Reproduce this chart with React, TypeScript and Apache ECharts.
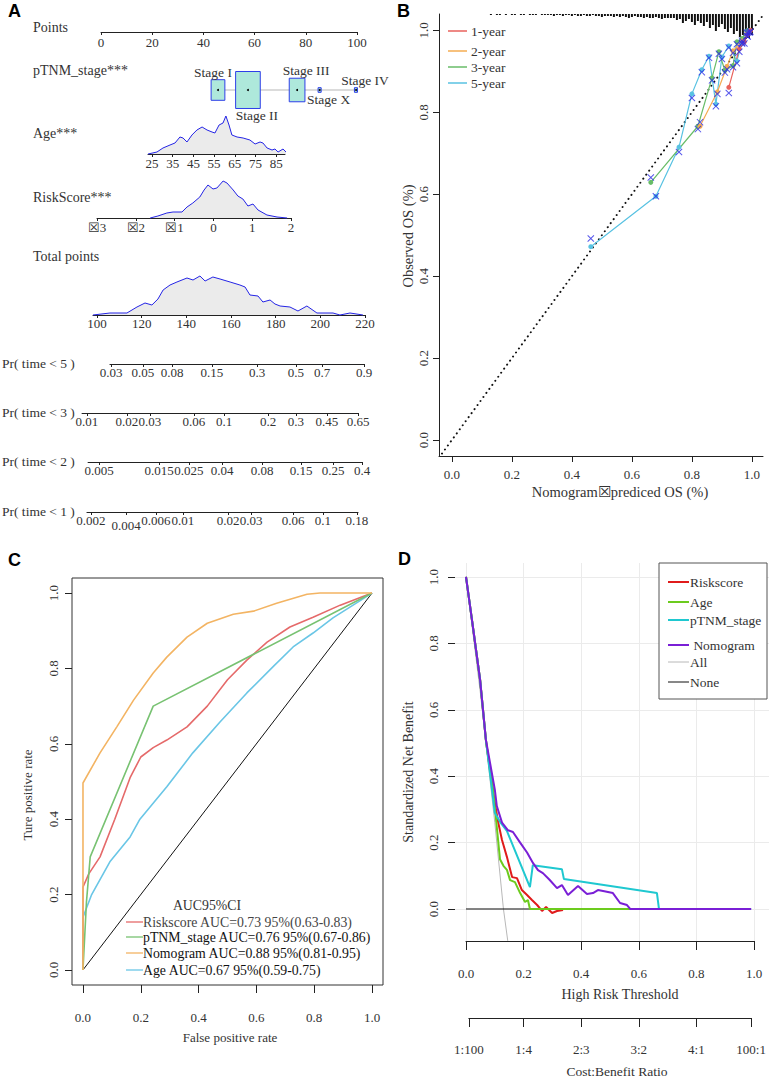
import React, { useEffect, useRef } from 'react';
import * as echarts from 'echarts';

const SERIF = '"Liberation Serif", "Times New Roman", serif';
const SANS = '"Liberation Sans", Arial, Helvetica, sans-serif';
const TXT = '#333';
const AXIS = '#222';
const BOXX = '\u2612';

// ---------------- Panel A : nomogram ----------------
const POINTS_TICKS = [0, 20, 40, 60, 80, 100];
const STAGE_NAMES = ['Stage I', 'Stage II', 'Stage III', 'Stage X', 'Stage IV'];
const STAGE_POINTS = [45.7, 57.4, 76.6, 85.4, 99.6];
const STAGE_COUNTS = [59, 190, 77, 3, 3];
const AGE_TICKS = [25, 35, 45, 55, 65, 75, 85];
const AGE_DENSITY = [
  [23.1, 0], [27.4, 2], [30.3, 6], [33.7, 9], [36.1, 11], [38.5, 17], [40.0, 16], [41.9, 12],
  [44.3, 19], [46.7, 24], [49.2, 27], [51.6, 24], [54.0, 22], [55.4, 21], [57.4, 29], [59.3, 31],
  [60.7, 38], [62.2, 29], [63.6, 19], [66.1, 17], [69.0, 16], [72.3, 14], [74.8, 10], [77.2, 12],
  [78.6, 11], [80.6, 6], [83.0, 4], [84.4, 5], [85.9, 2], [88.3, 5], [90.2, 1],
];
const RISK_TICKS = [-3, -2, -1, 0, 1, 2];
const RISK_DENSITY = [
  [-1.63, 0], [-1.43, 2], [-1.2, 5], [-1.04, 6], [-0.81, 6], [-0.68, 11], [-0.53, 15], [-0.35, 21],
  [-0.24, 28], [-0.14, 33], [-0.01, 29], [0.09, 30], [0.25, 37], [0.35, 35], [0.51, 28], [0.63, 22],
  [0.76, 19], [0.89, 12], [1.02, 14], [1.15, 8], [1.38, 3], [1.64, 1], [1.9, 0],
];
const TOTAL_TICKS = [100, 120, 140, 160, 180, 200, 220];
const TOTAL_DENSITY = [
  [98.2, 0], [105.8, 2], [113.4, 2], [117.9, 8], [121.5, 12], [124.6, 10], [127.3, 16], [129.6, 25],
  [132.7, 30], [135.8, 33], [140.3, 37], [143.0, 35], [146.1, 39], [148.4, 34], [151.9, 38], [155.1, 36],
  [159.6, 33], [164.0, 30], [166.3, 28], [168.5, 20], [172.1, 19], [174.3, 13], [177.5, 15], [179.7, 11],
  [182.0, 9], [186.4, 8], [190.0, 4], [194.0, 9], [198.5, 2], [205.7, 2], [208.8, 0], [213.3, 2], [219.1, 0],
];
const PR5_LABELS = ['0.03', '0.05', '0.08', '0.15', '0.3', '0.5', '0.7', '0.9'];
const PR5_POINTS = [106.3, 120.6, 133.6, 151.5, 171.7, 189.1, 200.8, 219.6];
const PR3_LABELS = ['0.01', '0.02', '0.03', '0.06', '0.1', '0.2', '0.3', '0.45', '0.65'];
const PR3_POINTS = [95.5, 113.4, 123.7, 143.4, 156.9, 176.6, 189.1, 203.0, 216.9];
const PR2_LABELS = ['0.005', '0.015', '0.025', '0.04', '0.08', '0.15', '0.25', '0.4'];
const PR2_POINTS = [100.9, 127.8, 141.2, 156.0, 173.9, 191.4, 205.7, 218.7];
const PR1_LABELS = ['0.002', '0.004', '0.006', '0.01', '0.02', '0.03', '0.06', '0.1', '0.18'];
const PR1_POINTS = [97.3, 113.0, 126.4, 138.5, 158.7, 169.0, 187.8, 201.2, 216.4];

// ---------------- Panel B : calibration ----------------
const YEAR_NAMES = ['1-year', '2-year', '3-year', '5-year'];
const PRED_1Y = [0.923, 0.958, 0.975, 0.986, 0.995];
const OBS_1Y = [0.861, 0.955, 0.972, 0.99, 1.0];
const BC_1Y = [0.847, 0.948, 0.968, 0.985, 0.997];
const PRED_2Y = [0.827, 0.885, 0.917, 0.937, 0.967, 0.983, 0.993];
const OBS_2Y = [0.766, 0.85, 0.912, 0.95, 0.974, 0.99, 0.998];
const BC_2Y = [0.776, 0.845, 0.905, 0.945, 0.97, 0.987, 0.995];
const PRED_3Y = [0.663, 0.82, 0.867, 0.89, 0.91, 0.937, 0.95, 0.967, 0.983];
const OBS_3Y = [0.629, 0.766, 0.884, 0.948, 0.902, 0.914, 0.972, 0.98, 0.999];
const BC_3Y = [0.641, 0.759, 0.878, 0.943, 0.897, 0.91, 0.966, 0.975, 0.994];
const PRED_5Y = [0.463, 0.68, 0.757, 0.8, 0.833, 0.857, 0.88, 0.9, 0.923, 0.95, 0.967, 0.987];
const OBS_5Y = [0.472, 0.595, 0.715, 0.845, 0.904, 0.937, 0.82, 0.935, 0.962, 0.925, 0.972, 0.999];
const BC_5Y = [0.492, 0.595, 0.703, 0.835, 0.898, 0.933, 0.815, 0.93, 0.958, 0.92, 0.968, 0.995];
const SPIKE_FROM = 0.13;
const SPIKE_STEP = 0.01;
const SPIKE_COUNTS = [
  1, 0, 1, 1, 0, 1, 0, 1, 1, 0,
  1, 1, 0, 1, 1, 1, 0, 1, 1, 1,
  1, 2, 1, 1, 2, 1, 1, 2, 1, 2,
  2, 1, 2, 2, 1, 2, 2, 3, 2, 2,
  2, 3, 2, 3, 2, 3, 4, 3, 2, 3,
  3, 4, 3, 4, 4, 3, 4, 5, 4, 4,
  4, 4, 6, 5, 9, 7, 5, 8, 11, 7,
  9, 12, 8, 14, 11, 17, 13, 10, 15, 18,
  14, 20, 17, 23, 21, 25, 24, 21,
];
const CAL_TICKS = [0, 0.2, 0.4, 0.6, 0.8, 1.0];

// ---------------- Panel C : ROC ----------------
const ROC_NAMES = ['Riskscore', 'pTNM_stage', 'Nomogram', 'Age'];
const ROC_AUC = [0.73, 0.76, 0.88, 0.67];
const ROC_LO = [0.63, 0.67, 0.81, 0.59];
const ROC_HI = [0.83, 0.86, 0.95, 0.75];
const RISK_ROC = [[0, 0], [0, 0.22], [0.02, 0.255], [0.059, 0.3], [0.11, 0.4], [0.163, 0.51], [0.2, 0.565], [0.243, 0.59], [0.29, 0.61], [0.36, 0.645], [0.43, 0.7], [0.5, 0.77], [0.567, 0.822], [0.637, 0.87], [0.716, 0.91], [0.796, 0.936], [0.89, 0.968], [1, 1]];
const PTNM_ROC = [[0, 0], [0.012, 0.18], [0.025, 0.3], [0.243, 0.7], [1, 1]];
const NOMO_ROC = [[0, 0], [0, 0.496], [0.059, 0.576], [0.117, 0.645], [0.175, 0.716], [0.243, 0.788], [0.29, 0.83], [0.36, 0.883], [0.43, 0.92], [0.52, 0.944], [0.59, 0.952], [0.67, 0.973], [0.775, 0.997], [0.82, 1], [1, 1]];
const AGE_ROC = [[0, 0], [0, 0.14], [0.03, 0.2], [0.093, 0.287], [0.163, 0.353], [0.197, 0.4], [0.29, 0.486], [0.38, 0.576], [0.474, 0.658], [0.567, 0.735], [0.657, 0.804], [0.727, 0.857], [0.796, 0.894], [0.865, 0.934], [1, 1]];
const ROC_TICKS = [0, 0.2, 0.4, 0.6, 0.8, 1.0];

// ---------------- Panel D : decision curves ----------------
const DCA_NAMES = ['Riskscore', 'Age', 'pTNM_stage', 'Nomogram', 'All', 'None'];
const DCA_RISK = [[0, 1], [0.02, 0.875], [0.049, 0.69], [0.069, 0.51], [0.094, 0.35], [0.112, 0.26], [0.125, 0.208], [0.142, 0.157], [0.16, 0.096], [0.177, 0.093], [0.194, 0.057], [0.212, 0.042], [0.229, 0.027], [0.247, 0.012], [0.264, -0.006], [0.278, 0.006], [0.299, -0.012], [0.316, -0.006], [0.337, -0.003]];
const DCA_AGE = [[0, 1], [0.02, 0.875], [0.049, 0.69], [0.07, 0.5], [0.094, 0.36], [0.11, 0.22], [0.118, 0.15], [0.13, 0.13], [0.142, 0.118], [0.153, 0.087], [0.17, 0.081], [0.188, 0.048], [0.205, 0.021], [0.215, 0.027], [0.222, 0], [0.57, 0]];
const DCA_PTNM = [[0, 1], [0.02, 0.875], [0.049, 0.69], [0.069, 0.51], [0.1, 0.29], [0.12, 0.26], [0.142, 0.235], [0.222, 0.066], [0.232, 0.132], [0.333, 0.12], [0.34, 0.09], [0.663, 0.048], [0.67, 0], [0.99, 0]];
const DCA_NOMO = [[0, 1], [0.02, 0.875], [0.049, 0.69], [0.069, 0.51], [0.1, 0.36], [0.107, 0.31], [0.125, 0.26], [0.146, 0.237], [0.163, 0.232], [0.188, 0.2], [0.212, 0.17], [0.233, 0.138], [0.25, 0.117], [0.267, 0.108], [0.29, 0.088], [0.316, 0.063], [0.333, 0.072], [0.354, 0.042], [0.389, 0.069], [0.42, 0.045], [0.441, 0.048], [0.458, 0.057], [0.476, 0.054], [0.51, 0.048], [0.535, 0.018], [0.559, 0.012], [0.57, 0], [0.99, 0]];
const DCA_ALL = [[0, 1], [0.05, 0.65], [0.1, 0.26], [0.13, 0], [0.145, -0.096]];
const DCA_NONE = [[0, 0], [0.99, 0]];
const COST_RATIOS = ['1:100', '1:4', '2:3', '3:2', '4:1', '100:1'];

// ---------------- styles ----------------
const YEAR_COLORS = ['#E8625C', '#F4AC52', '#68BC68', '#58C2E2'];
const ROC_COLORS = ['#E56A6A', '#78C272', '#F3B463', '#6AC6E6'];
const DCA_COLORS = ['#E01B1B', '#6CCB1E', '#1FC8D0', '#7A1FD6', '#B8B8B8', '#111111'];
const BC_COLOR = '#2B2BE6';
const X_SYMBOL = 'path://M0,1L1,0L5,4L9,0L10,1L6,5L10,9L9,10L5,6L1,10L0,9L4,5Z';
const TICK_FS = 13;

const TP_X0 = 97; // pixel of 100 total points
const TP_PX = 2.233; // pixels per total point

function nearest(arr: number[], v: number) {
  let best = 0;
  for (let i = 1; i < arr.length; i++) if (Math.abs(arr[i] - v) < Math.abs(arr[best] - v)) best = i;
  return best;
}

function txt(text: string, x: number, y: number, o: any = {}) {
  const align = o.align || 'left';
  return {
    type: 'text', x, y, rotation: o.rot || 0, silent: true, z: 100,
    style: {
      text, font: o.font || `${o.size || 13}px ${SERIF}`, fill: o.fill || TXT,
      align, verticalAlign: 'middle', textAlign: align, textVerticalAlign: 'middle',
    },
  };
}
function seg(x1: number, y1: number, x2: number, y2: number, stroke: string, lineWidth = 1.5) {
  return { type: 'line', silent: true, z: 100, shape: { x1, y1, x2, y2 }, style: { stroke, lineWidth } };
}

function buildOption() {
  const grid: any[] = [];
  const xAxis: any[] = [];
  const yAxis: any[] = [];
  const series: any[] = [];
  const graphic: any[] = [];
  const add = (g: any, xa: any, ya: any) => {
    const gi = grid.length;
    grid.push({ containLabel: false, outerBoundsMode: 'none', ...g });
    xAxis.push({ gridIndex: gi, ...xa });
    yAxis.push({ gridIndex: gi, ...ya });
    return { g: gi, x: xAxis.length - 1, y: yAxis.length - 1 };
  };
  const hiddenY = (max = 1) => ({ type: 'value', show: false, min: 0, max });
  const nomoAxis = (min: number, max: number, ticks: number[], fmt: any, margin: number, rich?: any) => ({
    type: 'value', min, max,
    axisLine: { show: true, onZero: false, lineStyle: { color: AXIS, width: 1 } },
    axisTick: { show: true, length: 3, customValues: ticks, lineStyle: { color: AXIS } },
    axisLabel: { show: true, customValues: ticks, formatter: fmt, margin, fontFamily: SERIF, fontSize: TICK_FS, color: TXT, rich },
    splitLine: { show: false },
  });
  const density = (a: any, data: number[][]) => ({
    type: 'line', xAxisIndex: a.x, yAxisIndex: a.y, data, symbol: 'none', clip: false, silent: true,
    lineStyle: { color: '#2424E6', width: 1 }, areaStyle: { color: '#EBEBEB', opacity: 1 },
  });

  // ---- A rows ----
  add({ left: 101, top: 22, width: 256, height: 10 }, nomoAxis(0, 100, POINTS_TICKS, (v: number) => String(v), 3.5), hiddenY());

  const aStage = add({ left: 101, top: 60, width: 256, height: 60 }, { type: 'value', min: 0, max: 100, show: false }, hiddenY());
  series.push({
    type: 'line', xAxisIndex: aStage.x, yAxisIndex: aStage.y, symbol: 'none', silent: true, z: 1,
    data: [[STAGE_POINTS[0], 0.5], [STAGE_POINTS[STAGE_POINTS.length - 1], 0.5]],
    lineStyle: { color: '#CFCFCF', width: 1.5 },
  });
  series.push({
    type: 'custom', xAxisIndex: aStage.x, yAxisIndex: aStage.y, z: 3, silent: true,
    data: STAGE_POINTS.map((p, i) => [p, STAGE_COUNTS[i]]),
    renderItem: (params: any, api: any) => {
      const i = params.dataIndex;
      const c = api.coord([api.value(0), 0.5]);
      const side = Math.sqrt(api.value(1) * 5);
      const w = side * 0.8, h = side * 1.2;
      const above = i % 2 === 0;
      const ly = above ? c[1] - h / 2 - 7.5 : c[1] + h / 2 + 7.5;
      const lx = c[0] + (i === 0 ? -5 : 9);
      return {
        type: 'group', children: [
          { type: 'rect', shape: { x: c[0] - w / 2, y: c[1] - h / 2, width: w, height: h }, style: { fill: '#AEE8DB', stroke: '#2E3FE8', lineWidth: 1 } },
          { type: 'circle', shape: { cx: c[0], cy: c[1], r: 1 }, style: { fill: '#000' } },
          { type: 'text', style: { text: STAGE_NAMES[i], x: lx, y: ly, align: 'center', verticalAlign: 'middle', textAlign: 'center', textVerticalAlign: 'middle', font: `13.5px ${SERIF}`, fill: TXT } },
        ],
      };
    },
  });

  const aAge = add({ left: 148, top: 110, width: 137, height: 44 }, nomoAxis(23.07, 89.25, AGE_TICKS, (v: number) => String(v), 2.5), hiddenY(44));
  series.push(density(aAge, AGE_DENSITY));

  const aRisk = add({ left: 97, top: 170, width: 194, height: 48 }, nomoAxis(-3, 2, RISK_TICKS, (v: number) => (v < 0 ? BOXX + String(-v) : String(v)), 2.5), hiddenY(48));
  series.push(density(aRisk, RISK_DENSITY));

  const aTot = add({ left: TP_X0 + (98.2 - 100) * TP_PX, top: 268, width: (220 - 98.2) * TP_PX, height: 47 }, nomoAxis(98.2, 220, TOTAL_TICKS, (v: number) => String(v), 2), hiddenY(47));
  series.push(density(aTot, TOTAL_DENSITY));

  const prRows = [
    { name: 'Pr( time < 5 )', labels: PR5_LABELS, points: PR5_POINTS, range: [105.8, 219.6], y: 364, ly: 363 },
    { name: 'Pr( time < 3 )', labels: PR3_LABELS, points: PR3_POINTS, range: [93.3, 216.9], y: 413, ly: 412 },
    { name: 'Pr( time < 2 )', labels: PR2_LABELS, points: PR2_POINTS, range: [96.0, 218.7], y: 462, ly: 461 },
    { name: 'Pr( time < 1 )', labels: PR1_LABELS, points: PR1_POINTS, range: [95.5, 216.9], y: 512, ly: 511 },
  ];
  prRows.forEach((r, ri) => {
    const left = TP_X0 + (r.range[0] - 100) * TP_PX;
    const width = (r.range[1] - r.range[0]) * TP_PX;
    const fmt = (v: number) => {
      const s = r.labels[nearest(r.points, v)];
      return ri === 3 && s === '0.004' ? `{low|${s}}` : s;
    };
    add({ left, top: r.y - 10, width, height: 10 },
      nomoAxis(r.range[0], r.range[1], r.points, fmt, 1.5, { low: { padding: [5, 0, 0, 0], fontFamily: SERIF, fontSize: TICK_FS, color: TXT } }),
      hiddenY());
    graphic.push(txt(r.name, 2, r.ly, { size: 13.5 }));
  });

  graphic.push(txt('Points', 33, 27, { size: 14 }));
  graphic.push(txt('pTNM_stage***', 33, 70, { size: 14 }));
  graphic.push(txt('Age***', 33, 133, { size: 14 }));
  graphic.push(txt('RiskScore***', 33, 197, { size: 14 }));
  graphic.push(txt('Total points', 33, 256, { size: 14 }));

  // ---- B ----
  const calTickFmt = (v: number) => v.toFixed(1);
  const aB = add({ left: 439, top: 14, width: 324, height: 442 },
    {
      type: 'value', min: -0.043, max: 1.037,
      axisLine: { show: true, onZero: false, lineStyle: { color: AXIS } },
      axisTick: { show: true, length: 6, customValues: CAL_TICKS, lineStyle: { color: AXIS } },
      axisLabel: { customValues: CAL_TICKS, formatter: calTickFmt, margin: 11.5, fontFamily: SERIF, fontSize: TICK_FS, color: TXT },
      splitLine: { show: false },
    },
    {
      type: 'value', min: -0.039, max: 1.04,
      axisLine: { show: true, onZero: false, lineStyle: { color: AXIS } },
      axisTick: { show: true, length: 6, customValues: CAL_TICKS, lineStyle: { color: AXIS } },
      axisLabel: { customValues: CAL_TICKS, formatter: calTickFmt, margin: 9.5, rotate: 90, fontFamily: SERIF, fontSize: TICK_FS, color: TXT },
      splitLine: { show: false },
    });
  yAxis.push({ gridIndex: aB.g, type: 'value', inverse: true, min: 0, max: 442, show: false });
  const spikeY = yAxis.length - 1;
  series.push({
    type: 'bar', xAxisIndex: aB.x, yAxisIndex: spikeY, barWidth: 2, silent: true,
    data: SPIKE_COUNTS.map((c, i) => [SPIKE_FROM + i * SPIKE_STEP, c]),
    itemStyle: { color: '#111' },
  });
  series.push({
    type: 'line', xAxisIndex: aB.x, yAxisIndex: aB.y, symbol: 'none', silent: true, clip: false,
    data: [[-0.033, -0.033], [1.037, 1.037]],
    lineStyle: { color: '#111', width: 2, type: [0.01, 5], cap: 'round' },
  });
  const preds = [PRED_1Y, PRED_2Y, PRED_3Y, PRED_5Y];
  const obss = [OBS_1Y, OBS_2Y, OBS_3Y, OBS_5Y];
  const bcs = [BC_1Y, BC_2Y, BC_3Y, BC_5Y];
  [3, 2, 1, 0].forEach((k) => {
    series.push({
      type: 'line', name: YEAR_NAMES[k], xAxisIndex: aB.x, yAxisIndex: aB.y, silent: true,
      data: preds[k].map((p, i) => [p, obss[k][i]]),
      symbol: 'circle', symbolSize: 5, itemStyle: { color: YEAR_COLORS[k] },
      lineStyle: { color: YEAR_COLORS[k], width: 1.2 },
    });
  });
  [3, 2, 1, 0].forEach((k) => {
    series.push({
      type: 'scatter', xAxisIndex: aB.x, yAxisIndex: aB.y, silent: true, z: 5,
      data: preds[k].map((p, i) => [p, bcs[k][i]]),
      symbol: X_SYMBOL, symbolSize: 7, itemStyle: { color: BC_COLOR },
    });
  });
  YEAR_NAMES.forEach((n, k) => {
    const y = [31, 51, 67, 83][k];
    graphic.push(seg(448, y, 467, y, YEAR_COLORS[k], 1.5));
    graphic.push(txt(n, 471, y, { size: 13.5 }));
  });
  graphic.push(txt('Observed OS (%)', 408, 236, { align: 'center', rot: Math.PI / 2, size: 14.5 }));
  graphic.push(txt('Nomogram' + BOXX + 'prediced OS (%)', 620, 492, { align: 'center', size: 14.5 }));

  // ---- C ----
  const aC = add({ left: 72, top: 578, width: 311, height: 407, show: true, borderColor: '#333', borderWidth: 1, backgroundColor: 'transparent' },
    {
      type: 'value', min: -0.038, max: 1.038,
      axisLine: { show: false, onZero: false },
      axisTick: { show: true, length: 8, customValues: ROC_TICKS, lineStyle: { color: AXIS } },
      axisLabel: { customValues: ROC_TICKS, formatter: calTickFmt, margin: 25.5, fontFamily: SERIF, fontSize: TICK_FS, color: TXT },
      splitLine: { show: false },
    },
    {
      type: 'value', min: -0.04, max: 1.04,
      axisLine: { show: false, onZero: false },
      axisTick: { show: true, length: 7, customValues: ROC_TICKS, lineStyle: { color: AXIS } },
      axisLabel: { customValues: ROC_TICKS, formatter: calTickFmt, margin: 12.5, rotate: 90, fontFamily: SERIF, fontSize: TICK_FS, color: TXT },
      splitLine: { show: false },
    });
  series.push({
    type: 'line', xAxisIndex: aC.x, yAxisIndex: aC.y, symbol: 'none', silent: true,
    data: [[0, 0], [1, 1]], lineStyle: { color: '#111', width: 1 },
  });
  const rocs = [RISK_ROC, PTNM_ROC, NOMO_ROC, AGE_ROC];
  [3, 0, 1, 2].forEach((k) => {
    series.push({
      type: 'line', xAxisIndex: aC.x, yAxisIndex: aC.y, symbol: 'none', silent: true,
      data: rocs[k], lineStyle: { color: ROC_COLORS[k], width: 1.6 },
    });
  });
  graphic.push(txt('AUC95%CI', 207, 905, { align: 'center', size: 13.8 }));
  ROC_NAMES.forEach((n, k) => {
    const y = [922, 937, 953, 970][k];
    graphic.push(seg(126, y, 143, y, ROC_COLORS[k], 1.3));
    graphic.push(txt(`${n} AUC=${ROC_AUC[k].toFixed(2)} 95%(${ROC_LO[k].toFixed(2)}-${ROC_HI[k].toFixed(2)})`, 143, y, { fill: k === 0 ? '#444' : '#111', size: 13.8 }));
  });
  graphic.push(txt('False positive rate', 230, 1037, { align: 'center', size: 13 }));
  graphic.push(txt('Ture positive rate', 27, 795, { align: 'center', rot: Math.PI / 2, size: 13 }));

  // ---- D ----
  add({ left: 455, top: 577, width: 314, height: 332 },
    { type: 'value', min: 0, max: 1, show: false },
    {
      type: 'value', min: 0, max: 1, interval: 0.2,
      axisLine: { show: false, onZero: false },
      axisTick: { show: true, length: 7, lineStyle: { color: AXIS } },
      axisLabel: { formatter: calTickFmt, margin: 15.5, rotate: 90, fontFamily: SERIF, fontSize: TICK_FS, color: TXT },
      splitLine: { show: true, lineStyle: { color: '#EBEBEB', width: 1 } },
    });
  const aD = add({ left: 466, top: 563, width: 288, height: 378 },
    {
      type: 'value', min: 0, max: 1, interval: 0.2,
      axisLine: { show: true, onZero: false, lineStyle: { color: AXIS } },
      axisTick: { show: true, length: 9, lineStyle: { color: AXIS } },
      axisLabel: { formatter: calTickFmt, margin: 25.5, fontFamily: SERIF, fontSize: TICK_FS, color: TXT },
      splitLine: { show: true, lineStyle: { color: '#EBEBEB', width: 1 } },
    },
    { type: 'value', min: -0.0964, max: 1.042, show: false });
  const costVals = COST_RATIOS.map((r) => {
    const [a, b] = r.split(':').map(Number);
    return a / (a + b);
  });
  const cMin = costVals[0], cMax = costVals[costVals.length - 1];
  add({ left: 466 + cMin * 288, top: 1008, width: (cMax - cMin) * 288, height: 10 },
    {
      type: 'value', min: cMin, max: cMax,
      axisLine: { show: true, onZero: false, lineStyle: { color: AXIS } },
      axisTick: { show: true, length: 9, customValues: costVals, lineStyle: { color: AXIS } },
      axisLabel: { customValues: costVals, formatter: (v: number) => COST_RATIOS[nearest(costVals, v)], margin: 24.5, fontFamily: SERIF, fontSize: TICK_FS, color: TXT },
      splitLine: { show: false },
    },
    hiddenY());
  const dcas = [DCA_RISK, DCA_AGE, DCA_PTNM, DCA_NOMO, DCA_ALL, DCA_NONE];
  [4, 5, 0, 1, 2, 3].forEach((k) => {
    series.push({
      type: 'line', xAxisIndex: aD.x, yAxisIndex: aD.y, symbol: 'none', silent: true,
      data: dcas[k], lineStyle: { color: DCA_COLORS[k], width: k >= 4 ? 1 : 2 },
    });
  });
  graphic.push({ type: 'rect', silent: true, z: 99, shape: { x: 659, y: 563, width: 108, height: 136 }, style: { fill: '#fff', stroke: '#555', lineWidth: 1 } });
  DCA_NAMES.forEach((n, k) => {
    const y = [582, 602, 620, 645, 662, 682][k];
    graphic.push(seg(668, y, 689, y, DCA_COLORS[k], k >= 4 ? 1 : 2));
    graphic.push(txt(k === 3 ? ' ' + n : n, 690, y, { size: 13.5 }));
  });
  graphic.push(txt('High Risk Threshold', 620, 994, { align: 'center', size: 14 }));
  graphic.push(txt('Cost:Benefit Ratio', 617, 1071, { align: 'center', size: 13.5 }));
  graphic.push(txt('Standardized Net Benefit', 408, 772, { align: 'center', rot: Math.PI / 2, size: 14 }));

  // panel letters
  const L = `bold 18px ${SANS}`;
  graphic.push(txt('A', 8, 11, { font: L, fill: '#000' }));
  graphic.push(txt('B', 397, 11, { font: L, fill: '#000' }));
  graphic.push(txt('C', 8, 560, { font: L, fill: '#000' }));
  graphic.push(txt('D', 398, 559, { font: L, fill: '#000' }));

  return { animation: false, backgroundColor: '#fff', grid, xAxis, yAxis, series, graphic };
}

export default function App() {
  const ref = useRef<HTMLDivElement>(null);
  useEffect(() => {
    const chart = echarts.init(ref.current as HTMLDivElement, null, { renderer: 'svg', width: 769, height: 1077 });
    chart.setOption(buildOption() as any);
    return () => chart.dispose();
  }, []);
  return <div ref={ref} style={{ position: 'absolute', left: 0, top: 0, width: 769, height: 1077, background: '#fff' }} />;
}
